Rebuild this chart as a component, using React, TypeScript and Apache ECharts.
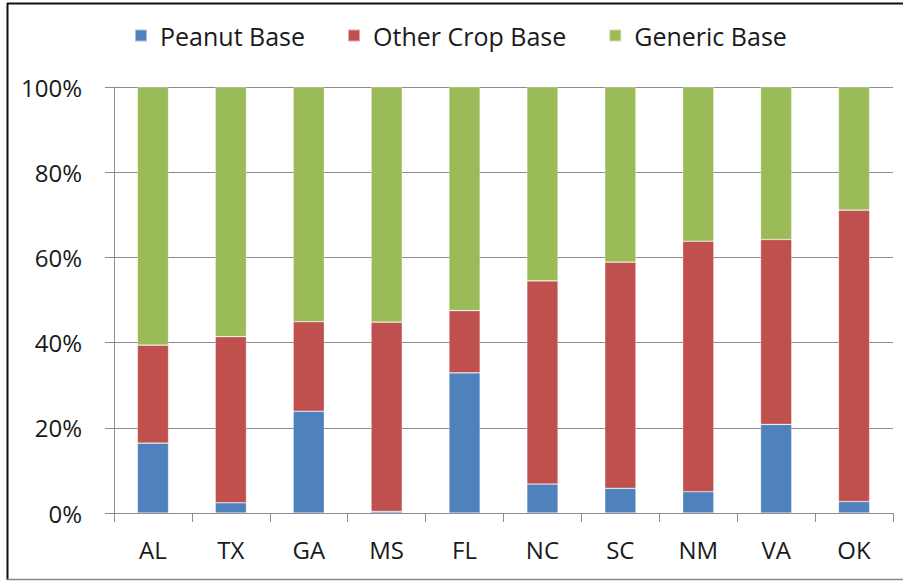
import React, { useEffect, useRef } from "react";
import * as echarts from "echarts";

const states = ["AL", "TX", "GA", "MS", "FL", "NC", "SC", "NM", "VA", "OK"];
const peanutBase = [16.4, 2.4, 23.9, 0.4, 32.9, 6.8, 5.8, 5.0, 20.8, 2.7];
const otherCropBase = [23.0, 39.0, 21.0, 44.4, 14.6, 47.7, 53.1, 58.8, 43.4, 68.4];
const genericBase = [60.6, 58.6, 55.1, 55.2, 52.5, 45.5, 41.1, 36.2, 35.8, 28.9];
const seriesNames = ["Peanut Base", "Other Crop Base", "Generic Base"];
const seriesColors = ["#4F81BD", "#C0504D", "#9BBB59"];

const FONT = "Open Sans";

export default function App() {
  const ref = useRef<HTMLDivElement>(null);
  useEffect(() => {
    if (!ref.current) return;
    const chart = echarts.init(ref.current, null, { renderer: "svg" });
    const datasets = [peanutBase, otherCropBase, genericBase];
    chart.setOption({
      animation: false,
      backgroundColor: "#ffffff",
      textStyle: { fontFamily: FONT },
      legend: {
        left: 129,
        top: 18,
        itemWidth: 12,
        itemHeight: 12,
        itemGap: 42,
        icon: "rect",
        textStyle: { fontFamily: FONT, fontSize: 25, color: "#1a1a1a", padding: [0, 0, 0, 8] },
        data: seriesNames,
      },
      grid: { left: 114, right: 10, top: 87, bottom: 68 },
      xAxis: {
        type: "category",
        data: states,
        axisLine: { lineStyle: { color: "#8c8c8c", width: 1 } },
        axisTick: { show: true, length: 9, lineStyle: { color: "#8c8c8c" }, alignWithLabel: false },
        axisLabel: { fontFamily: FONT, fontSize: 24, color: "#1a1a1a", margin: 24 },
      },
      yAxis: {
        type: "value",
        min: 0,
        max: 100,
        interval: 20,
        axisLine: { show: true, lineStyle: { color: "#8c8c8c", width: 1 } },
        axisTick: { show: true, length: 9, inside: false, lineStyle: { color: "#8c8c8c" } },
        splitLine: { show: true, lineStyle: { color: "#8c8c8c", width: 1 } },
        axisLabel: { fontFamily: FONT, fontSize: 24, color: "#1a1a1a", margin: 32, formatter: "{value}%" },
      },
      series: datasets.map((d, i) => ({
        name: seriesNames[i],
        type: "bar",
        stack: "total",
        data: d,
        barWidth: "40%",
        itemStyle: { color: seriesColors[i], borderColor: "rgba(255,255,255,0.5)", borderWidth: 0.6 },
      })),
      color: seriesColors,
      graphic: [
        { type: "line", shape: { x1: 7, y1: 3.5, x2: 903, y2: 3.5 }, style: { stroke: "#111", lineWidth: 2 } },
        { type: "line", shape: { x1: 7.5, y1: 3, x2: 7.5, y2: 580 }, style: { stroke: "#111", lineWidth: 2 } },
        { type: "line", shape: { x1: 7, y1: 579.5, x2: 903, y2: 579.5 }, style: { stroke: "#888", lineWidth: 1.5 } },
      ],
    });
    return () => chart.dispose();
  }, []);
  return (
    <div
      ref={ref}
      style={{ position: "fixed", left: 0, top: 0, width: 903, height: 581 }}
    />
  );
}
